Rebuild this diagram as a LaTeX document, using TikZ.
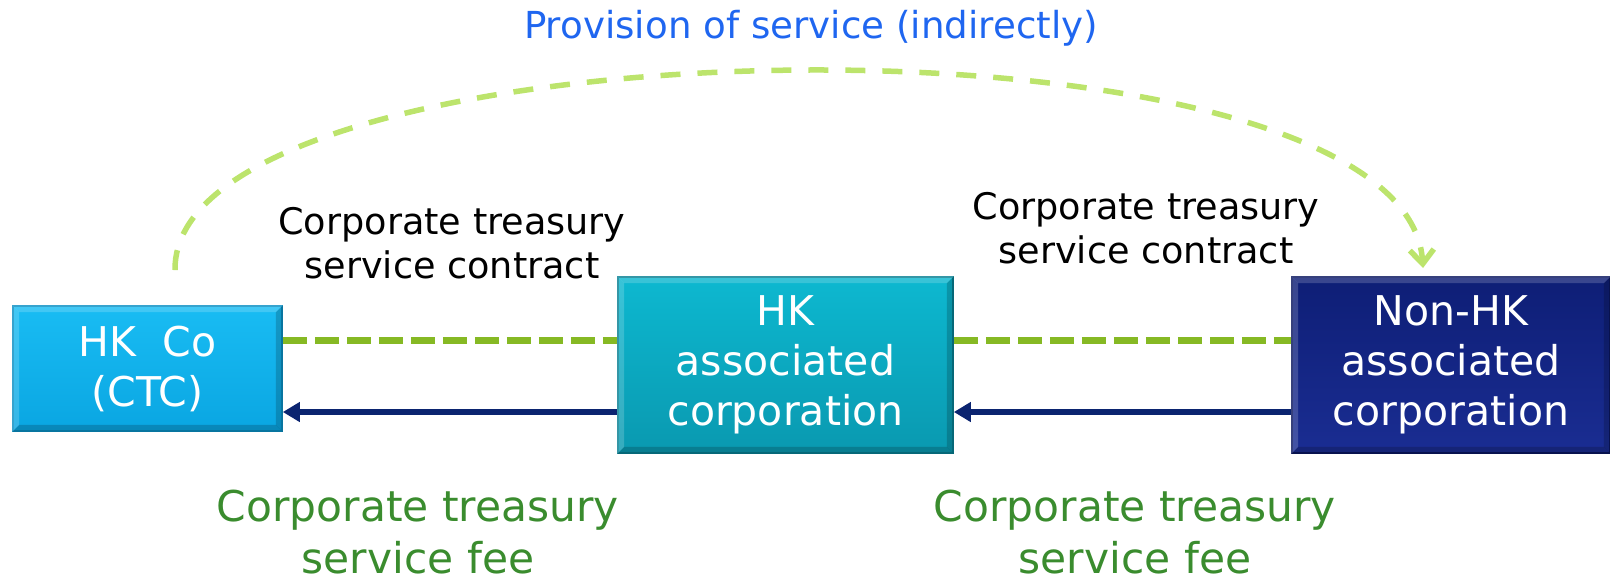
\documentclass[tikz,border=0pt]{standalone}
\usepackage{fontspec}
\setmainfont{DejaVu Sans}
\usetikzlibrary{arrows.meta}
\definecolor{navyarr}{HTML}{0B2470}
\definecolor{contractgreen}{HTML}{86B924}
\definecolor{provgreen}{HTML}{BCE46C}
\definecolor{feegreen}{HTML}{3A8C2E}
\definecolor{titleblue}{HTML}{1F66F0}
\definecolor{hktop}{HTML}{19BCF3}
\definecolor{hkbot}{HTML}{0AA6E2}
\definecolor{hkedge}{HTML}{0A8FC4}
\definecolor{astop}{HTML}{0DB8D0}
\definecolor{asbot}{HTML}{0A99B0}
\definecolor{asedge}{HTML}{087F93}
\definecolor{nhtop}{HTML}{0E1E76}
\definecolor{nhbot}{HTML}{1A2D92}
\definecolor{nhedge}{HTML}{0A1660}
\begin{document}
\begin{tikzpicture}[x=0.5pt,y=-0.5pt,
  boxnode/.style={inner sep=0pt, align=center, text=white,
    font=\fontsize{20.5}{25}\selectfont, line width=0.8pt},
  contractlbl/.style={inner sep=0pt, align=center, text=black,
    font=\fontsize{18.3}{22}\selectfont},
  feelbl/.style={inner sep=0pt, align=center, text=feegreen,
    font=\fontsize{21.2}{26}\selectfont},
  contractline/.style={draw=contractgreen, line width=3.5pt, dash pattern=on 12pt off 4pt},
  payline/.style={draw=navyarr, line width=2.6pt, -{Triangle[length=8.5pt,width=9.5pt]}},
  provline/.style={draw=provgreen, line width=2.75pt, dash pattern=on 10pt off 8.5pt,
    -{Straight Barb[length=7pt,width=12pt,line width=2.75pt]}},
  bevlight/.style={fill=white, fill opacity=0.18},
  bevdark/.style={fill=black, fill opacity=0.18}
]
\useasboundingbox (0,0) rectangle (1610,575);

% boxes
\node[boxnode, minimum width=134.5pt, minimum height=62.5pt,
  top color=hktop, bottom color=hkbot, draw=hkedge] (hk) at (147.5,368.5) {HK\ \ Co\\(CTC)};
\node[boxnode, minimum width=167.5pt, minimum height=88pt,
  top color=astop, bottom color=asbot, draw=asedge] (assoc) at (785.5,365) {HK\\associated\\corporation};
\node[boxnode, minimum width=159pt, minimum height=88pt,
  top color=nhtop, bottom color=nhbot, draw=nhedge] (nonhk) at (1451,365) {Non-HK\\associated\\corporation};

% bevels
\foreach \b in {hk,assoc,nonhk}{
  \fill[bevlight] (\b.north west) -- (\b.north east) -- ([xshift=-3.5pt,yshift=-3.5pt]\b.north east) -- ([xshift=3.5pt,yshift=-3.5pt]\b.north west) -- cycle;
  \fill[bevlight] (\b.north west) -- ([xshift=3.5pt,yshift=-3.5pt]\b.north west) -- ([xshift=3.5pt,yshift=3.5pt]\b.south west) -- (\b.south west) -- cycle;
  \fill[bevdark] (\b.south west) -- (\b.south east) -- ([xshift=-3.5pt,yshift=3.5pt]\b.south east) -- ([xshift=3.5pt,yshift=3.5pt]\b.south west) -- cycle;
  \fill[bevdark] (\b.north east) -- ([xshift=-3.5pt,yshift=-3.5pt]\b.north east) -- ([xshift=-3.5pt,yshift=3.5pt]\b.south east) -- (\b.south east) -- cycle;
}

% reference levels
\coordinate (gl) at (0,340);
\coordinate (nl) at (0,412);

% contract lines
\draw[contractline] (hk.east |- gl) -- (assoc.west |- gl);
\draw[contractline] (assoc.east |- gl) -- (nonhk.west |- gl);

% payment arrows
\draw[payline] (assoc.west |- nl) -- (hk.east |- nl);
\draw[payline] (nonhk.west |- nl) -- (assoc.east |- nl);

% provision arc
\coordinate (arcS) at (175,270);
\coordinate (arcE) at (1423,268);
\draw[provline] (arcS) .. controls (172,15) and (1405,-5) .. (arcE);

% labels
\node[inner sep=0pt, text=titleblue, font=\fontsize{18.6}{22}\selectfont] (title) at (811,28) {Provision of service (indirectly)};
\node[contractlbl] (cl1) at (452,243) {Corporate treasury\\service contract};
\node[contractlbl] (cl2) at (1146,228) {Corporate treasury\\service contract};
\node[feelbl] (fl1) at (418,532) {Corporate treasury\\service fee};
\node[feelbl] (fl2) at (1135,532) {Corporate treasury\\service fee};
\end{tikzpicture}
\end{document}
